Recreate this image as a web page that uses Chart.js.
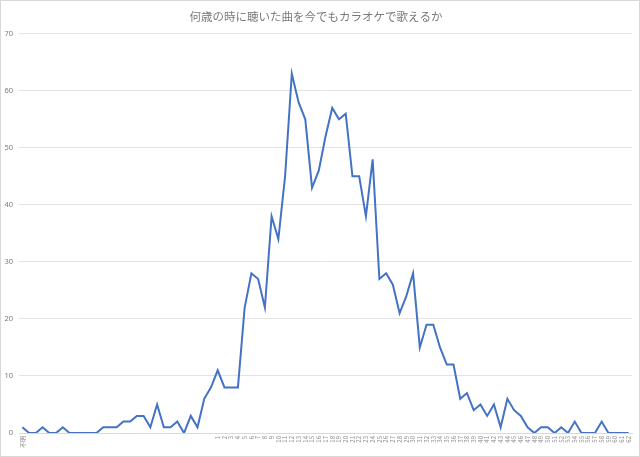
<!DOCTYPE html>
<html>
<head>
<meta charset="utf-8">
<script src="https://cdn.jsdelivr.net/npm/chart.js@4/dist/chart.umd.min.js"></script>
<style>
  html, body { margin: 0; padding: 0; background: #fff; }
  #wrap { width: 640px; height: 457px; position: relative; }
</style>
</head>
<body>
<div id="wrap"><canvas id="c" width="640" height="457"></canvas></div>
<script>
const titleText = '何歳の時に聴いた曲を今でもカラオケで歌えるか';

// Category labels: first "不明", 28 unlabeled categories, then ages 1..62
const leadLabels = ['不明', '', '', '', '', '', '', '', '', '', '', '', '', '', '', '', '', '', '', '', '', '', '', '', '', '', '', '', ''];
const ageLabels = ['1','2','3','4','5','6','7','8','9','10','11','12','13','14','15','16','17','18','19','20',
  '21','22','23','24','25','26','27','28','29','30','31','32','33','34','35','36','37','38','39','40',
  '41','42','43','44','45','46','47','48','49','50','51','52','53','54','55','56','57','58','59','60','61','62'];
const categories = leadLabels.concat(ageLabels);

// Series values
const leadValues = [1, 0, 0, 1, 0, 0, 1, 0, 0, 0, 0, 0, 1, 1, 1, 2, 2, 3, 3, 1, 5, 1, 1, 2, 0, 3, 1, 6, 8];
const ageValues = [11, 8, 8, 8, 22, 28, 27, 22, 38, 34, 45, 63, 58, 55, 43, 46, 52, 57, 55, 56,
  45, 45, 38, 48, 27, 28, 26, 21, 24, 28, 15, 19, 19, 15, 12, 12, 6, 7, 4, 5,
  3, 5, 1, 6, 4, 3, 1, 0, 1, 1, 0, 1, 0, 2, 0, 0, 0, 2, 0, 0, 0, 0];
const values = leadValues.concat(ageValues);

const yTicks = [0, 10, 20, 30, 40, 50, 60, 70];

const borderPlugin = {
  id: 'outerBorder',
  afterDraw(chart) {
    const ctx = chart.ctx;
    ctx.save();
    ctx.strokeStyle = '#d9d9d9';
    ctx.lineWidth = 1;
    ctx.strokeRect(0.5, 0.5, chart.width - 1, chart.height - 1);
    ctx.restore();
  }
};

new Chart(document.getElementById('c'), {
  type: 'line',
  data: {
    labels: categories,
    datasets: [{
      label: 'count',
      data: values,
      borderColor: '#4472C4',
      borderWidth: 2,
      pointRadius: 0,
      tension: 0,
      fill: false
    }]
  },
  options: {
    responsive: false,
    animation: false,
    layout: { padding: { left: 0, right: 8, top: 0, bottom: 0 } },
    plugins: {
      legend: { display: false },
      tooltip: { enabled: false },
      title: {
        display: true,
        text: titleText,
        color: '#7a7a7a',
        font: { family: "'Noto Sans CJK JP', sans-serif", size: 11.5, weight: 'normal' },
        padding: { top: 10, bottom: 10 }
      }
    },
    scales: {
      x: {
        type: 'category',
        offset: true,
        grid: { display: false, drawTicks: false },
        border: { display: true, color: '#d9d9d9', width: 1 },
        ticks: {
          autoSkip: false,
          maxRotation: 90,
          minRotation: 90,
          padding: 3,
          color: '#8a8a8a',
          font: { family: "'Noto Sans CJK JP', sans-serif", size: 6 }
        },
        afterFit(scale) { scale.height = 24; }
      },
      y: {
        min: 0,
        max: 70,
        afterBuildTicks(scale) { scale.ticks = yTicks.map(v => ({ value: v })); },
        grid: { color: '#e3e3e3', lineWidth: 1, drawTicks: false },
        border: { display: false },
        ticks: {
          padding: 6,
          color: '#7a7a7a',
          font: { family: "'Noto Sans', sans-serif", size: 7.5 }
        },
        afterFit(scale) { scale.width = 19; }
      }
    }
  },
  plugins: [borderPlugin]
});
</script>
</body>
</html>
